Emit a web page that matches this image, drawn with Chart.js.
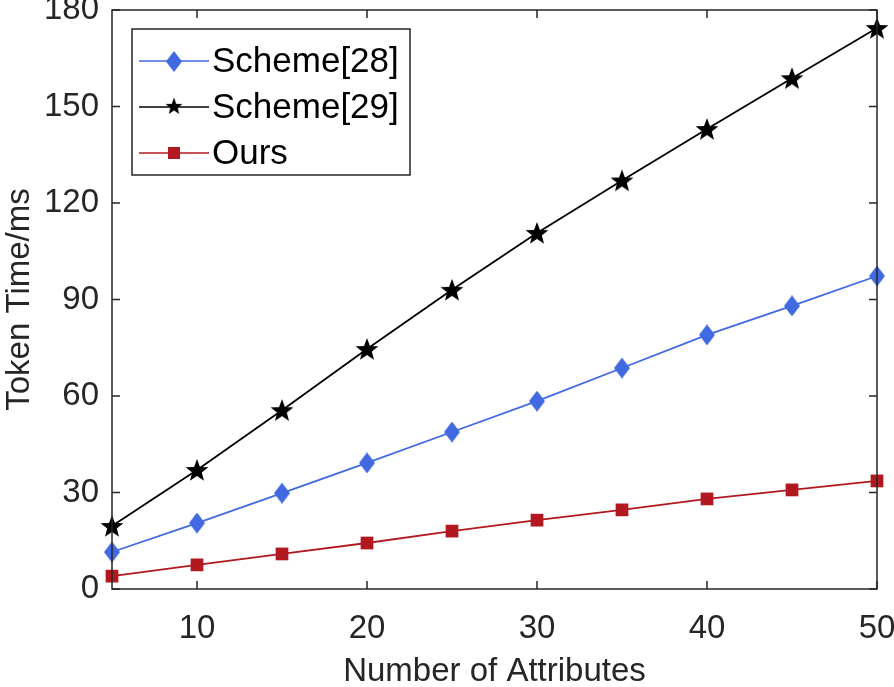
<!DOCTYPE html>
<html>
<head>
<meta charset="utf-8">
<script src="https://cdn.jsdelivr.net/npm/chart.js@4.4.0/dist/chart.umd.min.js"></script>
<style>
  html, body { margin: 0; padding: 0; background: #fff; }
  #wrap { width: 894px; height: 687px; }
</style>
</head>
<body>
<div id="wrap"><canvas id="chart" width="894" height="687"></canvas></div>
<script>
const attributes = [5, 10, 15, 20, 25, 30, 35, 40, 45, 50];
const scheme28 = [11.5, 20.5, 29.8, 39.2, 48.8, 58.4, 68.7, 79.0, 88.0, 97.3];
const scheme29 = [19.6, 37.0, 55.6, 74.6, 93.0, 110.7, 127.0, 143.0, 158.8, 174.4];
const ours = [4.0, 7.5, 10.9, 14.3, 18.0, 21.4, 24.6, 28.0, 30.8, 33.6];
const xTicks = [10, 20, 30, 40, 50];
const yTicks = [0, 30, 60, 90, 120, 150, 180];

const axisColor = '#262626';
const fontFamily = '"Liberation Sans", Arial, Helvetica, sans-serif';

function makeStar(size, color) {
    const c = document.createElement('canvas');
    c.width = size; c.height = size;
    const g = c.getContext('2d');
    const cx = size / 2, cy = size / 2 + 1;
    const outer = size / 2, inner = outer * 0.42;
    g.beginPath();
    for (let i = 0; i < 10; i++) {
        const r = i % 2 === 0 ? outer : inner;
        const a = -Math.PI / 2 + i * Math.PI / 5;
        const px = cx + r * Math.cos(a), py = cy + r * Math.sin(a);
        if (i === 0) g.moveTo(px, py); else g.lineTo(px, py);
    }
    g.closePath();
    g.fillStyle = color;
    g.fill();
    return c;
}

function makeDiamond(w, h, color) {
    const c = document.createElement('canvas');
    c.width = w; c.height = h;
    const g = c.getContext('2d');
    g.beginPath();
    g.moveTo(w / 2, 0); g.lineTo(w, h / 2); g.lineTo(w / 2, h); g.lineTo(0, h / 2);
    g.closePath();
    g.fillStyle = color;
    g.fill();
    return c;
}

const starImg = makeStar(24, '#000');
const diamondImg = makeDiamond(16, 21, '#4169E1');

function toPoints(ys) {
    return attributes.map((x, i) => ({ x: x, y: ys[i] }));
}

// box, inward ticks and the legend
const matlabAxes = {
    id: 'matlabAxes',
    afterDatasetsDraw(chart) {
        const ctx = chart.ctx;
        const a = chart.chartArea;
        const xs = chart.scales.x, ys = chart.scales.y;
        ctx.save();
        ctx.strokeStyle = axisColor;
        ctx.lineWidth = 1.5;
        ctx.strokeRect(a.left, a.top, a.right - a.left, a.bottom - a.top);
        const tl = 8;
        ctx.beginPath();
        xTicks.forEach(v => {
            const px = xs.getPixelForValue(v);
            ctx.moveTo(px, a.bottom); ctx.lineTo(px, a.bottom - tl);
            ctx.moveTo(px, a.top); ctx.lineTo(px, a.top + tl);
        });
        yTicks.forEach(v => {
            const py = ys.getPixelForValue(v);
            ctx.moveTo(a.left, py); ctx.lineTo(a.left + tl, py);
            ctx.moveTo(a.right, py); ctx.lineTo(a.right - tl, py);
        });
        ctx.stroke();

        // legend
        const lx = 132, ly = 29, lw = 278, lh = 146;
        ctx.fillStyle = '#fff';
        ctx.fillRect(lx, ly, lw, lh);
        ctx.strokeStyle = axisColor;
        ctx.lineWidth = 1.5;
        ctx.strokeRect(lx, ly, lw, lh);
        ctx.font = '35px ' + fontFamily;
        ctx.textBaseline = 'middle';
        chart.data.datasets.forEach((ds, i) => {
            const y = ly + 32 + i * 46;
            ctx.strokeStyle = ds.borderColor;
            ctx.lineWidth = 1.5;
            ctx.beginPath();
            ctx.moveTo(lx + 7, y); ctx.lineTo(lx + 77, y);
            ctx.stroke();
            const mx = lx + 42;
            if (ds.legendMarker === 'diamond') {
                ctx.drawImage(diamondImg, mx - 8, y - 10);
            } else if (ds.legendMarker === 'star') {
                ctx.drawImage(starImg, mx - 9, y - 10, 18, 18);
            } else {
                ctx.fillStyle = ds.pointBackgroundColor;
                ctx.fillRect(mx - 6, y - 6, 12, 12);
            }
            ctx.fillStyle = '#000';
            ctx.textAlign = 'left';
            ctx.fillText(ds.label, lx + 80, y + 1);
        });
        ctx.restore();
    }
};

new Chart(document.getElementById('chart'), {
    type: 'line',
    data: {
        datasets: [
            {
                label: 'Scheme[28]',
                data: toPoints(scheme28),
                borderColor: '#4169E1',
                backgroundColor: '#4169E1',
                pointBackgroundColor: '#4169E1',
                pointStyle: diamondImg,
                borderWidth: 1.8,
                legendMarker: 'diamond'
            },
            {
                label: 'Scheme[29]',
                data: toPoints(scheme29),
                borderColor: '#000',
                backgroundColor: '#000',
                pointBackgroundColor: '#000',
                pointStyle: starImg,
                borderWidth: 1.8,
                legendMarker: 'star'
            },
            {
                label: 'Ours',
                data: toPoints(ours),
                borderColor: '#B2181F',
                backgroundColor: '#B2181F',
                pointBackgroundColor: '#B2181F',
                pointBorderWidth: 0,
                pointStyle: 'rect',
                pointRadius: 9,
                borderWidth: 1.8,
                legendMarker: 'square'
            }
        ]
    },
    options: {
        responsive: false,
        animation: false,
        clip: false,
        layout: { padding: { left: 0, top: 10, right: 17, bottom: 0 } },
        plugins: { legend: { display: false }, tooltip: { enabled: false } },
        scales: {
            x: {
                type: 'linear',
                min: 5,
                max: 50,
                afterBuildTicks: s => { s.ticks = xTicks.map(v => ({ value: v })); },
                afterFit: s => { s.height = 98; s.paddingLeft = 0; s.paddingRight = 0; },
                grid: { display: false, drawTicks: false },
                border: { display: false },
                ticks: { color: axisColor, font: { size: 33, family: fontFamily }, padding: 20 },
                title: { display: true, text: 'Number of Attributes', color: axisColor,
                         font: { size: 33, family: fontFamily }, padding: { top: 8, bottom: -5 } }
            },
            y: {
                min: 0,
                max: 180,
                afterBuildTicks: s => { s.ticks = yTicks.map(v => ({ value: v })); },
                afterFit: s => { s.width = 112; s.paddingTop = 0; s.paddingBottom = 0; },
                grid: { display: false, drawTicks: false },
                border: { display: false },
                ticks: { color: axisColor, font: { size: 33, family: fontFamily }, padding: 13 },
                title: { display: true, text: 'Token Time/ms', color: axisColor,
                         font: { size: 33, family: fontFamily }, padding: { top: 0, bottom: 0 } }
            }
        }
    },
    plugins: [matlabAxes]
});
</script>
</body>
</html>
